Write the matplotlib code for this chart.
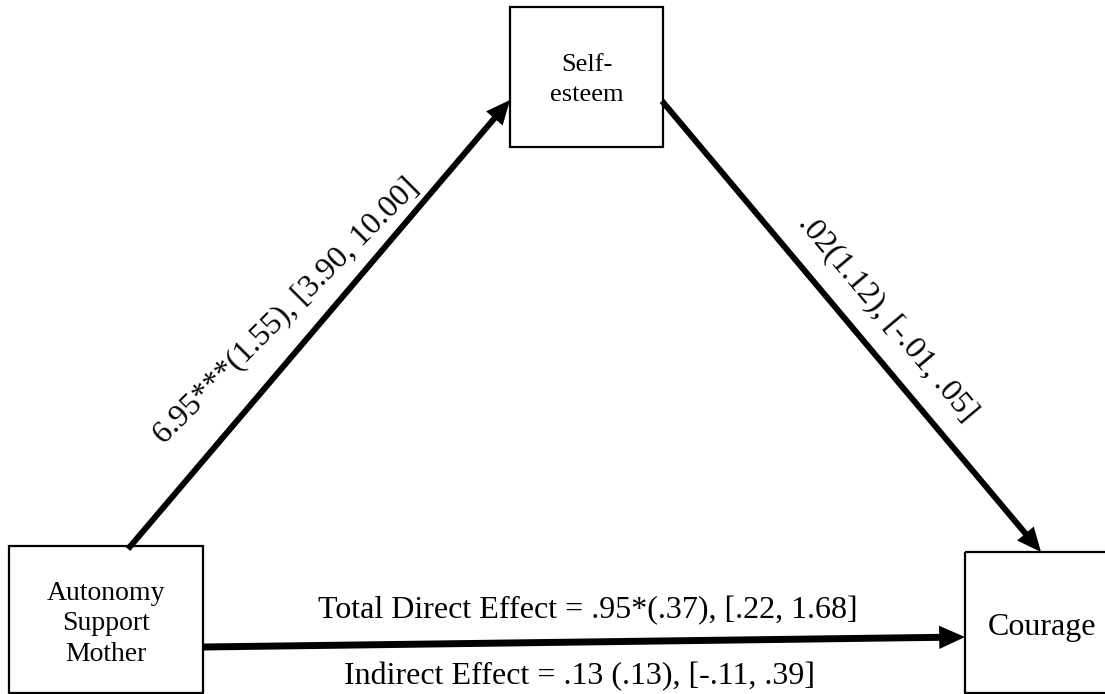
import matplotlib
matplotlib.use("Agg")
import matplotlib.pyplot as plt
from matplotlib.patches import Rectangle, FancyArrowPatch

plt.rcParams["font.family"] = ["Liberation Serif", "DejaVu Serif"]

# Mediation model: nodes and path estimates
node_names = ["Autonomy\nSupport\nMother", "Self-\nesteem", "Courage"]
node_fontsizes = [20, 19, 23]
node_linespacing = [1.28, 1.45, 1.0]
path_a = "6.95***(1.55), [3.90, 10.00]"
path_b = ".02(1.12), [-.01, .05]"
total_direct = "Total Direct Effect = .95*(.37), [.22, 1.68]"
indirect = "Indirect Effect = .13 (.13), [-.11, .39]"

W, H = 1105, 694
fig = plt.figure(figsize=(W / 100, H / 100), dpi=100)
ax = fig.add_axes([0, 0, 1, 1])
ax.set_xlim(0, W)
ax.set_ylim(H, 0)
ax.axis("off")

# boxes: (x0, y0, x1, y1) in pixel layout; the outcome box runs past the right edge
boxes = [(9, 546, 203, 693), (510, 7, 663, 147), (965, 552, 1120, 693)]
text_centres = [(106, 624), (587, 80), (1042, 627)]
for (x0, y0, x1, y1), (cx, cy), name, fs, ls in zip(
        boxes, text_centres, node_names, node_fontsizes, node_linespacing):
    ax.add_patch(Rectangle((x0, y0), x1 - x0, y1 - y0, fill=False,
                           edgecolor="black", linewidth=1.6, zorder=3))
    ax.text(cx, cy, name, ha="center", va="center",
            fontsize=fs, linespacing=ls, zorder=4)


def arrow(p0, p1, lw):
    ax.add_patch(FancyArrowPatch(p0, p1, arrowstyle="-|>,head_length=1.0,head_width=0.45",
                                 mutation_scale=10, linewidth=lw, color="black",
                                 shrinkA=0, shrinkB=0, joinstyle="miter",
                                 capstyle="butt", zorder=2))


arrow((128, 549), (510, 100), 4.3)
arrow((662, 101), (1041, 552), 4.3)
arrow((203, 647), (965, 637), 5.0)

ax.text(292, 317, path_a, rotation=45, rotation_mode="anchor",
        ha="center", va="baseline", fontsize=23)
ax.text(887, 318, path_b, rotation=-49.9, rotation_mode="anchor",
        ha="center", va="center", fontsize=23)
ax.text(588, 618, total_direct, ha="center", va="baseline", fontsize=23)
ax.text(580, 684, indirect, ha="center", va="baseline", fontsize=23)

fig.savefig("out.png", dpi=100)
